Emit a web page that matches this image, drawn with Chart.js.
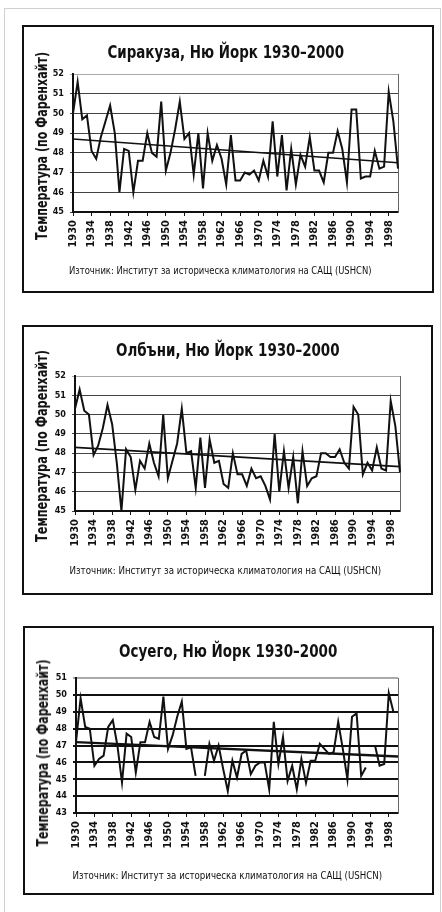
<!DOCTYPE html>
<html>
<head>
<meta charset="utf-8">
<script src="https://cdn.jsdelivr.net/npm/chart.js@4.4.1/dist/chart.umd.min.js"></script>
<style>
  body { margin: 0; background: #fff; width: 442px; height: 912px; position: relative; overflow: hidden;
         font-family: 'Liberation Sans Narrow', 'DejaVu Sans Condensed', sans-serif; color: #111; }
  .frame { position: absolute; left: 4px; top: 8px; width: 437px; height: 910px; border: 1px solid #d0d0d0; box-sizing: border-box; }
  .panel { position: absolute; border: 2px solid #111; box-sizing: border-box; background: #fff; }
  .panel canvas { position: absolute; left: 0; top: 0; }
  .txt { position: absolute; white-space: nowrap; transform-origin: center; }
  .title { font-weight: bold; font-size: 18px; line-height: 22px; }
  .ytitle { font-weight: bold; font-size: 15px; line-height: 18px; }
  .src { font-size: 10.5px; line-height: 14px; }
</style>
</head>
<body>
<div class="frame"></div>

<script>
var years = ['1930','1931','1932','1933','1934','1935','1936','1937','1938','1939',
             '1940','1941','1942','1943','1944','1945','1946','1947','1948','1949',
             '1950','1951','1952','1953','1954','1955','1956','1957','1958','1959',
             '1960','1961','1962','1963','1964','1965','1966','1967','1968','1969',
             '1970','1971','1972','1973','1974','1975','1976','1977','1978','1979',
             '1980','1981','1982','1983','1984','1985','1986','1987','1988','1989',
             '1990','1991','1992','1993','1994','1995','1996','1997','1998','1999','2000'];

// Сиракуза
var syracuseTemps = [50.0, 51.6, 49.7, 49.9, 48.1, 47.7, 48.8, 49.6, 50.4, 49.0,
                     46.0, 48.2, 48.1, 46.0, 47.6, 47.6, 49.0, 48.0, 47.8, 50.6,
                     47.1, 48.0, 49.2, 50.6, 48.7, 49.0, 46.9, 49.0, 46.2, 49.0,
                     47.6, 48.4, 47.7, 46.4, 48.9, 46.6, 46.6, 47.0, 46.9, 47.1,
                     46.6, 47.6, 46.8, 49.6, 46.8, 48.9, 46.1, 48.2, 46.4, 47.9,
                     47.3, 48.8, 47.1, 47.1, 46.5, 48.0, 48.0, 49.1, 48.2, 46.5,
                     50.2, 50.2, 46.7, 46.8, 46.8, 48.1, 47.2, 47.3, 51.1, 49.6, 47.2];
var syracuseTrend = [48.7, 47.5];

// Олбъни
var albanyTemps = [50.3, 51.3, 50.2, 50.0, 47.9, 48.4, 49.3, 50.5, 49.5, 47.5,
                   45.0, 48.2, 47.8, 46.1, 47.6, 47.2, 48.5, 47.5, 46.8, 50.0,
                   46.7, 47.6, 48.5, 50.3, 48.0, 48.1, 46.2, 48.8, 46.2, 48.7,
                   47.5, 47.6, 46.4, 46.2, 48.0, 46.9, 46.9, 46.3, 47.2, 46.7,
                   46.8, 46.3, 45.6, 49.0, 46.0, 48.1, 46.2, 47.8, 45.4, 48.1,
                   46.3, 46.7, 46.8, 48.0, 48.0, 47.8, 47.8, 48.2, 47.5, 47.2,
                   50.4, 50.0, 46.9, 47.5, 47.1, 48.3, 47.2, 47.1, 50.7, 49.4, 47.0];
var albanyTrend = [48.3, 47.3];

// Осуего (липсващи години = null)
var oswegoTemps = [47.2, 49.8, 48.1, 48.0, 45.8, 46.2, 46.4, 48.1, 48.5, 47.0,
                   44.8, 47.7, 47.5, 45.4, 47.2, 47.2, 48.4, 47.5, 47.4, 49.9,
                   46.8, 47.6, 48.7, 49.6, 46.8, 46.9, 45.2, null, 45.2, 47.1,
                   46.1, 47.0, 45.6, 44.3, 46.1, 45.1, 46.5, 46.7, 45.3, 45.8,
                   46.0, 46.0, 44.4, 48.4, 45.9, 47.5, 44.9, 45.8, 44.4, 46.2,
                   44.8, 46.1, 46.1, 47.1, 46.8, 46.5, 46.6, 48.4, 46.8, 45.0,
                   48.7, 48.9, 45.2, 45.7, null, 47.0, 45.8, 45.9, 50.1, 49.0, null];
var oswegoTrend = [47.2, 46.35];

var yAxisTitle = 'Температура (по Фаренхайт)';
var sourceText = 'Източник: Институт за историческа климатология на САЩ (USHCN)';

var fontFamily = "'Liberation Sans Narrow', 'DejaVu Sans Condensed', sans-serif";

var panels = [
  { title: 'Сиракуза, Ню Йорк 1930–2000', values: syracuseTemps, trend: syracuseTrend, yMin: 45, yMax: 52,
    box: { l: 22, t: 25, w: 412, h: 268 }, plot: { l: 73, r: 398, t: 74, b: 212 },
    titlePos: [226, 52, 237], yTitlePos: [42, 146, 188], srcPos: [220, 270, 303],
    grid: 1, gridColor: '#444', trendWidth: 1.6 },
  { title: 'Олбъни, Ню Йорк 1930–2000', values: albanyTemps, trend: albanyTrend, yMin: 45, yMax: 52,
    box: { l: 22, t: 325, w: 411, h: 270 }, plot: { l: 75, r: 400, t: 376, b: 511 },
    titlePos: [228, 350, 224], yTitlePos: [42, 446, 192], srcPos: [225, 570, 312],
    grid: 1, gridColor: '#444', trendWidth: 1.6 },
  { title: 'Осуего, Ню Йорк 1930–2000', values: oswegoTemps, trend: oswegoTrend, yMin: 43, yMax: 51,
    box: { l: 23, t: 626, w: 411, h: 269 }, plot: { l: 76, r: 398, t: 678, b: 813 },
    titlePos: [228, 651, 218], yTitlePos: [43, 753, 187], srcPos: [227, 875, 310],
    grid: 2, gridColor: '#111', trendWidth: 2.4 }
];

// текст, центриран в точка и свит до зададена ширина
function placeText(text, cls, pos, rotate) {
  var el = document.createElement('div');
  el.className = 'txt ' + cls;
  el.textContent = text;
  document.body.appendChild(el);
  var s = pos[2] / el.offsetWidth;
  el.style.left = (pos[0] - el.offsetWidth / 2) + 'px';
  el.style.top = (pos[1] - el.offsetHeight / 2) + 'px';
  el.style.transform = (rotate ? 'rotate(-90deg) ' : '') + 'scaleX(' + s + ')';
}

panels.forEach(function(p) {
  var box = document.createElement('div');
  box.className = 'panel';
  box.style.left = p.box.l + 'px';
  box.style.top = p.box.t + 'px';
  box.style.width = p.box.w + 'px';
  box.style.height = p.box.h + 'px';
  document.body.appendChild(box);

  var ox = p.box.l + 2, oy = p.box.t + 2;
  var W = p.box.w - 4, H = p.box.h - 4;

  var canvas = document.createElement('canvas');
  canvas.width = W;
  canvas.height = H;
  box.appendChild(canvas);

  placeText(p.title, 'title', p.titlePos, false);
  placeText(yAxisTitle, 'ytitle', p.yTitlePos, true);
  placeText(sourceText, 'src', p.srcPos, false);

  var pl = p.plot.l - ox, pr = p.plot.r - ox, pt = p.plot.t - oy, pb = p.plot.b - oy;

  // линията на тренда: само двете крайни точки
  var trendData = years.map(function() { return null; });
  trendData[0] = p.trend[0];
  trendData[years.length - 1] = p.trend[1];

  new Chart(canvas, {
    type: 'line',
    data: {
      labels: years,
      datasets: [{
        data: p.values,
        yAxisID: 'y',
        borderColor: '#111',
        borderWidth: 2,
        pointRadius: 0,
        tension: 0,
        spanGaps: false
      }, {
        data: trendData,
        yAxisID: 'y',
        borderColor: '#111',
        borderWidth: p.trendWidth,
        pointRadius: 0,
        spanGaps: true
      }]
    },
    options: {
      responsive: false,
      animation: false,
      events: [],
      layout: { padding: { top: pt, right: W - pr, left: 0, bottom: 0 } },
      plugins: { legend: { display: false }, tooltip: { enabled: false } },
      scales: {
        x: {
          ticks: {
            autoSkip: false, maxRotation: 90, minRotation: 90, padding: 4, color: '#111',
            font: { family: fontFamily, size: 11, weight: 'bold' },
            callback: function(v, i) { return i % 4 === 0 ? years[i] : ''; }
          },
          grid: {
            drawOnChartArea: false, tickLength: 4,
            color: function(c) { return c.index % 4 === 0 ? '#111' : 'rgba(0,0,0,0)'; }
          },
          border: { color: '#111', width: 2 },
          afterFit: function(s) { s.height = H - pb; }
        },
        y: {
          min: p.yMin, max: p.yMax,
          ticks: { stepSize: 1, padding: 6, color: '#111', font: { family: fontFamily, size: 9, weight: 'bold' } },
          grid: {
            tickLength: 3,
            lineWidth: p.grid,
            color: function(c) { return c.tick && c.tick.value === p.yMax ? '#aaa' : p.gridColor; }
          },
          border: { color: '#111', width: 2 },
          afterFit: function(s) { s.width = pl; }
        },
        yr: {
          position: 'right',
          ticks: { display: false },
          grid: { display: false },
          border: { color: '#666', width: 1 },
          afterFit: function(s) { s.width = 0; }
        }
      }
    }
  });
});
</script>
</body>
</html>
